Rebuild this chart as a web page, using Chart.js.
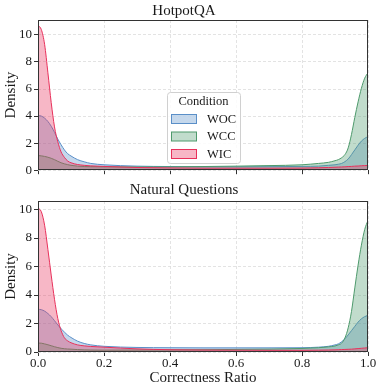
<!DOCTYPE html>
<html><head><meta charset="utf-8">
<script src="https://cdn.jsdelivr.net/npm/chart.js@4/dist/chart.umd.min.js"></script>
<style>
html,body{margin:0;padding:0;background:#fff;width:381px;height:390px;overflow:hidden}
canvas{position:absolute;left:0}
</style></head><body>
<canvas id="c1" width="381" height="180" style="top:0"></canvas>
<canvas id="c2" width="381" height="210" style="top:180px"></canvas>
<script>
// ---- data ----
const xs = [0, 0.01, 0.02, 0.03, 0.04, 0.05, 0.06, 0.07, 0.08, 0.09, 0.1, 0.12, 0.14, 0.16, 0.2, 0.3, 0.4, 0.5, 0.6, 0.7, 0.8, 0.85, 0.88, 0.9, 0.91, 0.92, 0.93, 0.94, 0.95, 0.96, 0.97, 0.98, 0.99, 1.0];
const conditions = ['WOC', 'WCC', 'WIC'];
const panelTitles = ['HotpotQA', 'Natural Questions'];
const xTickValues = [0, 0.2, 0.4, 0.6, 0.8, 1.0];
const yTickValues = [0, 2, 4, 6, 8, 10];

const hotpotWOC = [4.05, 4.0, 3.85, 3.6, 3.25, 2.8, 2.3, 1.88, 1.5, 1.22, 1.05, 0.78, 0.62, 0.5, 0.4, 0.3, 0.27, 0.25, 0.25, 0.26, 0.28, 0.3, 0.36, 0.4, 0.44, 0.5, 0.63, 0.83, 1.15, 1.5, 1.85, 2.15, 2.35, 2.48];
const hotpotWCC = [1.08, 1.06, 1.02, 0.96, 0.88, 0.78, 0.66, 0.55, 0.47, 0.41, 0.36, 0.3, 0.27, 0.26, 0.25, 0.24, 0.25, 0.27, 0.3, 0.34, 0.4, 0.5, 0.58, 0.7, 0.78, 0.92, 1.15, 1.65, 2.65, 3.9, 5.05, 6.05, 6.8, 7.2];
const hotpotWIC = [10.7, 10.4, 9.3, 7.2, 5.0, 3.2, 2.1, 1.35, 0.95, 0.68, 0.55, 0.42, 0.36, 0.32, 0.28, 0.2, 0.17, 0.15, 0.15, 0.15, 0.16, 0.18, 0.2, 0.22, 0.23, 0.24, 0.25, 0.27, 0.28, 0.3, 0.31, 0.33, 0.34, 0.35];

const nqWOC = [3.0, 2.97, 2.87, 2.7, 2.48, 2.2, 1.9, 1.63, 1.4, 1.18, 1.02, 0.76, 0.6, 0.5, 0.4, 0.32, 0.3, 0.29, 0.29, 0.29, 0.3, 0.34, 0.4, 0.5, 0.57, 0.72, 0.93, 1.2, 1.5, 1.8, 2.1, 2.33, 2.48, 2.58];
const nqWCC = [0.63, 0.62, 0.57, 0.51, 0.44, 0.37, 0.31, 0.26, 0.23, 0.21, 0.2, 0.17, 0.15, 0.14, 0.13, 0.14, 0.15, 0.16, 0.18, 0.2, 0.25, 0.3, 0.36, 0.42, 0.5, 0.62, 0.98, 1.7, 2.85, 4.5, 6.1, 7.5, 8.6, 9.25];
const nqWIC = [10.1, 9.85, 8.9, 7.2, 5.4, 3.7, 2.35, 1.5, 1.0, 0.78, 0.65, 0.5, 0.43, 0.39, 0.34, 0.22, 0.16, 0.14, 0.13, 0.12, 0.12, 0.13, 0.14, 0.15, 0.16, 0.17, 0.18, 0.19, 0.2, 0.22, 0.24, 0.26, 0.28, 0.3];

// ---- styles ----
const FONT = "'Liberation Serif', 'Times New Roman', serif";
const TEXT = '#1a1a1a';
const lineColors = ['#5a8fc8', '#4e9a6c', '#e8315b'];
const fillColors = ['rgba(90,143,200,0.35)', 'rgba(78,154,108,0.35)', 'rgba(232,49,91,0.35)'];

const framePlugin = {
  id: 'frame',
  afterDraw(chart) {
    const {ctx, chartArea: a} = chart;
    ctx.save();
    ctx.strokeStyle = '#333';
    ctx.lineWidth = 1;
    ctx.strokeRect(Math.round(a.left) + 0.5, Math.round(a.top) + 0.5, Math.round(a.right - a.left) - 1, Math.round(a.bottom - a.top) - 1);
    ctx.restore();
  }
};

const legendPlugin = {
  id: 'innerLegend',
  afterDraw(chart) {
    const {ctx, chartArea: a} = chart;
    const L = a.left + 129, T = a.top + 72, W = 73, H = 71;
    ctx.save();
    ctx.beginPath();
    ctx.roundRect(L + 0.5, T + 0.5, W, H, 3);
    ctx.fillStyle = 'rgba(255,255,255,0.85)';
    ctx.fill();
    ctx.strokeStyle = '#d0d0d0';
    ctx.lineWidth = 1;
    ctx.stroke();
    ctx.fillStyle = TEXT;
    ctx.font = '12.5px ' + FONT;
    ctx.textAlign = 'center';
    ctx.textBaseline = 'middle';
    ctx.fillText('Condition', L + W / 2, T + 10);
    conditions.forEach((c, i) => {
      const cy = T + 27 + i * 17.5;
      ctx.fillStyle = fillColors[i];
      ctx.fillRect(L + 4.5, cy - 4.5, 25, 9);
      ctx.strokeStyle = lineColors[i];
      ctx.strokeRect(L + 4.5, cy - 4.5, 25, 9);
      ctx.fillStyle = TEXT;
      ctx.textAlign = 'left';
      ctx.fillText(c, L + 40, cy + 0.5);
    });
    ctx.restore();
  }
};

function makeChart(id, title, series, yMax, showX, withLegend, titlePad) {
  const datasets = conditions.map((c, i) => ({
    label: c,
    data: xs.map((x, j) => ({x: x, y: series[i][j]})),
    borderColor: lineColors[i],
    backgroundColor: fillColors[i],
    borderWidth: 1,
    fill: 'origin',
    pointRadius: 0,
    tension: 0.4,
    cubicInterpolationMode: 'monotone',
    order: 3 - i
  }));
  const gridOpts = {color: '#dcdcdc', lineWidth: 0.8, tickLength: 4, tickColor: '#333', tickWidth: 1, tickBorderDash: []};
  return new Chart(document.getElementById(id), {
    type: 'line',
    data: {datasets},
    options: {
      responsive: false,
      animation: false,
      events: [],
      layout: {padding: {left: 0, right: 13, top: 0, bottom: 0}},
      plugins: {
        legend: {display: false},
        tooltip: {enabled: false},
        title: {display: true, text: title, color: TEXT, font: {family: FONT, size: 15, weight: 'normal'}, padding: titlePad}
      },
      scales: {
        x: {
          type: 'linear', min: 0, max: 1,
          afterBuildTicks: s => { s.ticks = xTickValues.map(v => ({value: v})); },
          ticks: {display: showX, callback: v => v.toFixed(1), color: TEXT, font: {family: FONT, size: 13}, padding: 0, maxRotation: 0, autoSkip: false},
          grid: gridOpts,
          border: {display: false, dash: [3, 2]},
          title: {display: showX, text: 'Correctness Ratio', color: TEXT, font: {family: FONT, size: 15}, padding: {top: 0, bottom: 3}},
          afterFit: s => { s.height = showX ? 38 : 8; }
        },
        y: {
          min: 0, max: yMax,
          afterBuildTicks: s => { s.ticks = yTickValues.map(v => ({value: v})); },
          ticks: {color: TEXT, font: {family: FONT, size: 13}, padding: 2},
          grid: gridOpts,
          border: {display: false, dash: [3, 2]},
          title: {display: true, text: 'Density', color: TEXT, font: {family: FONT, size: 15}, padding: {top: 2, bottom: 0}},
          afterFit: s => { s.width = 38; }
        }
      }
    },
    plugins: withLegend ? [framePlugin, legendPlugin] : [framePlugin]
  });
}

makeChart('c1', panelTitles[0], [hotpotWOC, hotpotWCC, hotpotWIC], 11.1, false, true, {top: 2, bottom: 0});
makeChart('c2', panelTitles[1], [nqWOC, nqWCC, nqWIC], 10.6, true, false, {top: 1, bottom: 2});
</script>
</body></html>
